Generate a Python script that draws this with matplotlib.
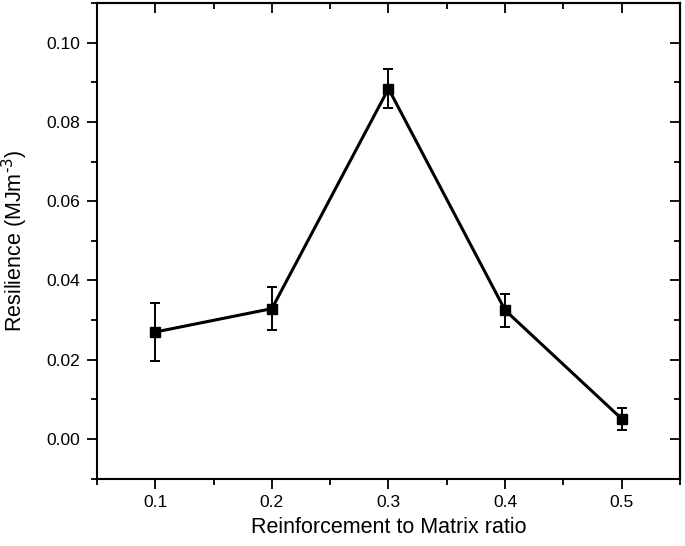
import matplotlib
matplotlib.use("Agg")
import matplotlib.pyplot as plt
from matplotlib.ticker import MultipleLocator

# dados
ratio = [0.1, 0.2, 0.3, 0.4, 0.5]
resilience = [0.0270, 0.0329, 0.0884, 0.0325, 0.0051]
erro = [0.0073, 0.0055, 0.0049, 0.0042, 0.0028]
xticks = [0.1, 0.2, 0.3, 0.4, 0.5]
yticks = [0.00, 0.02, 0.04, 0.06, 0.08, 0.10]

plt.rcParams['font.family'] = ['Liberation Sans', 'DejaVu Sans']

fig = plt.figure(figsize=(6.85, 5.46), dpi=100)
ax = fig.add_axes([0.1416, 0.1233, 0.8511, 0.8712])

ax.errorbar(ratio, resilience, yerr=erro, color='black', linewidth=2.2,
            marker='s', markersize=6.5, capsize=3.6, capthick=1.4, elinewidth=1.4)

ax.set_xlim(0.05, 0.55)
ax.set_ylim(-0.01, 0.11)
ax.set_xticks(xticks)
ax.set_xticklabels(['%.1f' % v for v in xticks])
ax.set_yticks(yticks)
ax.set_yticklabels(['%.2f' % v for v in yticks])
ax.xaxis.set_minor_locator(MultipleLocator(0.05))
ax.yaxis.set_minor_locator(MultipleLocator(0.01))

for s in ax.spines.values():
    s.set_linewidth(1.5)

ax.tick_params(which='major', direction='out', length=7, width=1.3, labelsize=12.5, pad=5)
ax.tick_params(which='minor', direction='out', length=4, width=1.3)
ax.tick_params(which='both', top=False, right=False)

# ticks espelhados para dentro (topo e direita)
ax2 = ax.secondary_xaxis('top')
ax2.set_xticks(xticks)
ax2.set_xticklabels([])
ax2.xaxis.set_minor_locator(MultipleLocator(0.05))
ax2.tick_params(which='major', direction='in', length=7, width=1.3)
ax2.tick_params(which='minor', direction='in', length=4, width=1.3)
ax2.spines['top'].set_linewidth(1.5)
ay2 = ax.secondary_yaxis('right')
ay2.set_yticks(yticks)
ay2.set_yticklabels([])
ay2.yaxis.set_minor_locator(MultipleLocator(0.01))
ay2.tick_params(which='major', direction='in', length=7, width=1.3)
ay2.tick_params(which='minor', direction='in', length=4, width=1.3)
ay2.spines['right'].set_linewidth(1.5)

ax.set_xlabel('Reinforcement to Matrix ratio', fontsize=15.5, labelpad=5)
ax.set_ylabel('Resilience (MJm$^{\\text{-3}}$)', fontsize=15.5, labelpad=12)

fig.savefig('out.png', dpi=100)
